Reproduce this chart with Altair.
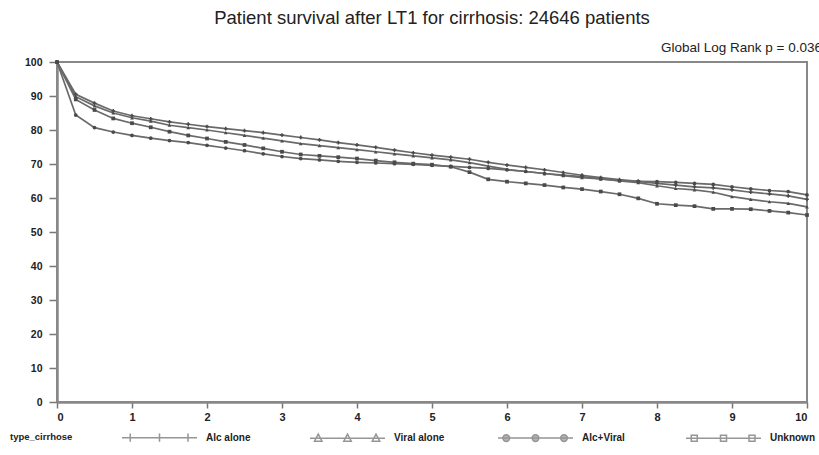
import altair as alt
import pandas as pd

TITLE = "Patient survival after LT1 for cirrhosis: 24646 patients"
LOG_RANK = "Global Log Rank p = 0.036"
LEGEND_TITLE = "type_cirrhose"

groups = ["Alc alone", "Viral alone", "Alc+Viral", "Unknown"]

years = [0, 0.25, 0.5, 0.75, 1, 1.25, 1.5, 1.75, 2, 2.25, 2.5, 2.75, 3, 3.25,
         3.5, 3.75, 4, 4.25, 4.5, 4.75, 5, 5.25, 5.5, 5.75, 6, 6.25, 6.5, 6.75,
         7, 7.25, 7.5, 7.75, 8, 8.25, 8.5, 8.75, 9, 9.25, 9.5, 9.75, 10]

alc_alone = [100, 90.5, 87.9, 85.6, 84.2, 83.3, 82.4, 81.7, 81.0, 80.4, 79.8,
             79.2, 78.5, 77.8, 77.1, 76.3, 75.6, 74.9, 74.1, 73.3, 72.6, 72.0,
             71.4, 70.5, 69.7, 69.0, 68.3, 67.5, 66.7, 66.0, 65.4, 64.9, 64.3,
             63.8, 63.3, 63.0, 62.4, 61.7, 61.2, 60.6, 59.6]
viral_alone = [100, 89.8, 87.1, 85.0, 83.6, 82.6, 81.4, 80.7, 80.0, 79.2, 78.4,
               77.6, 76.8, 76.0, 75.4, 74.8, 74.2, 73.6, 73.0, 72.4, 71.8, 71.2,
               70.4, 69.4, 68.4, 67.8, 67.2, 66.6, 66.0, 65.6, 65.0, 64.5, 63.6,
               62.8, 62.4, 61.7, 60.4, 59.6, 58.9, 58.4, 57.4]
alc_viral = [100, 84.4, 80.7, 79.4, 78.4, 77.6, 76.9, 76.3, 75.5, 74.7, 73.9,
             73.0, 72.2, 71.6, 71.2, 70.8, 70.5, 70.3, 70.1, 69.9, 69.6, 69.3,
             69.0, 68.7, 68.3, 67.8, 67.2, 66.7, 66.3, 65.6, 65.1, 64.9, 64.8,
             64.6, 64.3, 64.0, 63.3, 62.7, 62.2, 61.9, 60.9]
unknown = [100, 89.0, 85.9, 83.4, 82.0, 80.8, 79.5, 78.4, 77.5, 76.5, 75.6,
           74.6, 73.6, 72.8, 72.4, 72.0, 71.6, 71.0, 70.5, 70.1, 69.8, 69.2,
           67.6, 65.5, 64.8, 64.3, 63.8, 63.1, 62.6, 61.9, 61.1, 59.9, 58.3,
           57.9, 57.6, 56.8, 56.8, 56.7, 56.2, 55.7, 55.0]

series = dict(zip(groups, [alc_alone, viral_alone, alc_viral, unknown]))
df = pd.DataFrame(
    [{"years": t, "survival": v, "type_cirrhose": g}
     for g, vals in series.items() for t, v in zip(years, vals)]
)

GREY = "#6a6a6a"
INK = "#222222"


def legend_glyph(marker):
    """Wide legend symbol: a line with three markers, in [-1, 1] units."""
    parts = ["M-1,0L1,0"]
    for cx in (-0.78, 0.0, 0.76):
        if marker == "plus":
            parts.append(f"M{cx - 0.11},0L{cx + 0.11},0M{cx},-0.11L{cx},0.11")
        elif marker == "triangle":
            parts.append(f"M{cx},-0.11L{cx + 0.1},0.08L{cx - 0.1},0.08Z")
        elif marker == "circle":
            parts.append(f"M{cx - 0.09},0A0.09,0.09 0 1,0 {cx + 0.09},0"
                         f"A0.09,0.09 0 1,0 {cx - 0.09},0Z")
        else:
            parts.append(f"M{cx - 0.08},-0.08L{cx + 0.08},-0.08"
                         f"L{cx + 0.08},0.08L{cx - 0.08},0.08Z")
    return "".join(parts)


x_axis = alt.Axis(values=list(range(11)), format="d", title=None, grid=False,
                  domainColor="#888888", domainWidth=2.5,
                  tickColor="#777777", tickSize=6, tickWidth=1.5,
                  labelFontSize=11, labelFontWeight="bold", labelColor=INK,
                  labelPadding=3, labelOverlap=False)
y_axis = alt.Axis(values=list(range(0, 101, 10)), format="d", title=None, grid=False,
                  domainColor="#888888", domainWidth=2.5,
                  tickColor="#777777", tickSize=8, tickWidth=1.5,
                  labelFontSize=10.5, labelFontWeight="bold", labelColor=INK,
                  labelPadding=7, labelOverlap=False)


def x_enc():
    return alt.X("years:Q", scale=alt.Scale(domain=[0, 10], nice=False), axis=x_axis)


def y_enc():
    return alt.Y("survival:Q", scale=alt.Scale(domain=[0, 100], nice=False), axis=y_axis)


lines = alt.Chart(df).mark_line(color=GREY, strokeWidth=1.7).encode(
    x=x_enc(), y=y_enc(), detail="type_cirrhose:N"
)

markers = alt.Chart(df).mark_point(filled=True, color="#4a4a4a", size=14, opacity=1).encode(
    x=x_enc(),
    y=y_enc(),
    shape=alt.Shape("type_cirrhose:N",
                    scale=alt.Scale(domain=groups,
                                    range=["cross", "triangle-up", "circle", "square"]),
                    legend=None),
)

# Legend-only layer: wide line-with-markers glyphs, no marks drawn
legend_layer = alt.Chart(df).mark_point(
    filled=False, strokeWidth=1.5
).encode(
    x=x_enc(),
    y=y_enc(),
    shape=alt.Shape(
        "type_cirrhose:N",
        scale=alt.Scale(domain=groups,
                        range=[legend_glyph(m) for m in ["plus", "triangle", "circle", "square"]]),
        title=None,
    ),
    fill=alt.Fill(
        "type_cirrhose:N",
        scale=alt.Scale(domain=groups, range=["#ffffff", "#ffffff", GREY, "#ffffff"]),
        title=None,
    ),
    stroke=alt.Stroke(
        "type_cirrhose:N",
        scale=alt.Scale(domain=groups, range=[GREY, GREY, GREY, GREY]),
        title=None,
    ),
).transform_filter("false")

note = alt.Chart(pd.DataFrame({"txt": [LOG_RANK]})).mark_text(
    align="left", baseline="alphabetic", fontSize=13.5, color=INK
).encode(text="txt:N", x=alt.value(604), y=alt.value(-10))

legend_title = alt.Chart(pd.DataFrame({"txt": [LEGEND_TITLE]})).mark_text(
    align="left", baseline="middle", fontSize=9.5, fontWeight="bold", color=INK
).encode(text="txt:N", x=alt.value(-47), y=alt.value(375))

chart = (
    alt.layer(lines, markers, legend_layer, note, legend_title)
    .resolve_scale(shape="independent", fill="independent", stroke="independent")
    .properties(
        width=750,
        height=340,
        autosize=alt.AutoSizeParams(type="none"),
        padding={"left": 57, "top": 62, "right": 12, "bottom": 53},
        title=alt.TitleParams(TITLE, fontSize=18.5, fontWeight="normal",
                              color=INK, anchor="middle", offset=14),
    )
    .configure(font="Liberation Sans", background="white")
    .configure_view(stroke="#888888", strokeWidth=2)
    .configure_legend(
        orient="none", legendX=64, legendY=337, direction="horizontal",
        labelFontSize=10, labelFontWeight="bold",
        labelColor=INK, labelOffset=8, gridAlign="all", columnPadding=50,
        symbolSize=5625, symbolStrokeColor=GREY, symbolStrokeWidth=1.5,
        padding=0,
    )
)

chart.save("out.html", embed_options={"renderer": "svg", "actions": False})
